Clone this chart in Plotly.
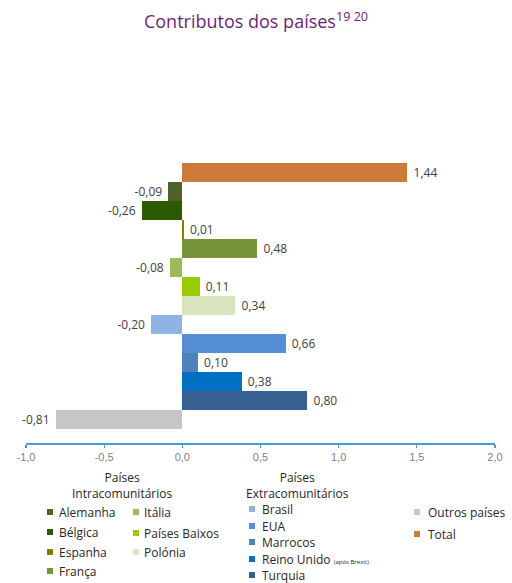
import plotly.graph_objects as go

# ---- data ----
categories = ["Total", "Alemanha", "Bélgica", "Espanha", "França", "Itália",
              "Países Baixos", "Polónia", "Brasil", "EUA", "Marrocos",
              "Reino Unido", "Turquia", "Outros países"]
values = [1.44, -0.09, -0.26, 0.01, 0.48, -0.08, 0.11, 0.34,
          -0.20, 0.66, 0.10, 0.38, 0.80, -0.81]
colors = {
    "Total": "#CC7A3A", "Alemanha": "#4F6228", "Bélgica": "#2D5A00",
    "Espanha": "#808000", "França": "#77933C", "Itália": "#9BBB59",
    "Países Baixos": "#99CC00", "Polónia": "#D7E4BD", "Brasil": "#8EB4E3",
    "EUA": "#558ED5", "Marrocos": "#4F81BD", "Reino Unido": "#0070C0",
    "Turquia": "#366092", "Outros países": "#C6C6C6",
}
tick_vals = [-1.0, -0.5, 0.0, 0.5, 1.0, 1.5, 2.0]
tick_labels = ["-1,0", "-0,5", "0,0", "0,5", "1,0", "1,5", "2,0"]

intra_col1 = ["Alemanha", "Bélgica", "Espanha", "França"]
intra_col2 = ["Itália", "Países Baixos", "Polónia"]
extra_list = ["Brasil", "EUA", "Marrocos", "Reino Unido", "Turquia"]
other_list = ["Outros países", "Total"]

title_text = "Contributos dos países<sup>19 20</sup>"

# ---- geometry ----
W_FIG, H_FIG = 512, 583
L, R, T, B = 26, 17, 60, 140
PW = W_FIG - L - R
PH = H_FIG - T - B
BOTTOM_PX = H_FIG - B
SLOT = 19.0

def px2x(px):
    return (px - L) / PW

def py2y(py):
    return (BOTTOM_PX - py) / PH

NB = "\u00a0"
labels = []
for v in values:
    s = f"{v:.2f}".replace(".", ",")
    labels.append(NB + s if v >= 0 else s + NB)

fig = go.Figure()
fig.add_trace(go.Bar(
    x=values, y=categories, orientation="h",
    marker=dict(color=[colors[c] for c in categories], line=dict(width=0)),
    text=labels, textposition="outside", texttemplate="%{text}",
    textfont=dict(family="Open Sans", size=12, color="#404040"),
    cliponaxis=False, showlegend=False, hoverinfo="skip",
))

n = len(categories)
last_center_px = 419.5
extra_units = (BOTTOM_PX - last_center_px) / SLOT
y_lo = (n - 1) + extra_units
y_hi = y_lo - PH / SLOT

fig.update_yaxes(visible=False, categoryorder="array", categoryarray=categories,
                 range=[y_lo, y_hi])
fig.update_xaxes(range=[-1, 2], tickvals=tick_vals, ticktext=tick_labels,
                 showgrid=False, zeroline=False, showline=True,
                 linecolor="#4A9BD0", linewidth=1.5, ticks="outside",
                 ticklen=3, tickcolor="#4A9BD0", tickwidth=1.2,
                 tickfont=dict(family="Liberation Sans", size=11, color="#7F7F7F"))

shapes = []
annotations = []
legend_font = dict(family="Open Sans", size=12, color="#262626")

def add_entry(name, sq_cx, text_x, cy, label=None):
    s = 3
    shapes.append(dict(type="rect", xref="paper", yref="paper",
                       x0=px2x(sq_cx - s), x1=px2x(sq_cx + s),
                       y0=py2y(cy + s), y1=py2y(cy - s),
                       fillcolor=colors[name], line=dict(width=0)))
    annotations.append(dict(xref="paper", yref="paper", x=px2x(text_x - 2),
                            y=py2y(cy), xanchor="left", yanchor="middle",
                            text=label if label else name, showarrow=False,
                            font=legend_font))

for name, cy in zip(intra_col1, [512, 532, 552, 571]):
    add_entry(name, 50, 59, cy)
for name, cy in zip(intra_col2, [512, 533, 552]):
    add_entry(name, 136, 144, cy)
for name, cy in zip(extra_list, [509, 526, 542, 559, 575]):
    lab = name
    if name == "Reino Unido":
        lab = "Reino Unido <span style='font-size:6px'>(após Brexit)</span>"
    add_entry(name, 252, 262, cy, lab)
for name, cy in zip(other_list, [512, 534]):
    add_entry(name, 417, 428, cy)

annotations.append(dict(xref="paper", yref="paper", x=px2x(122), y=py2y(485),
                        xanchor="center", yanchor="middle", showarrow=False,
                        text="Países<br>Intracomunitários", font=legend_font))
annotations.append(dict(xref="paper", yref="paper", x=px2x(297), y=py2y(485),
                        xanchor="center", yanchor="middle", showarrow=False,
                        text="Países<br>Extracomunitários", font=legend_font))

fig.update_layout(
    width=W_FIG, height=H_FIG,
    margin=dict(l=L, r=R, t=T, b=B, autoexpand=False),
    paper_bgcolor="white", plot_bgcolor="white",
    bargap=0,
    separators=", ",
    title=dict(text=title_text, x=0.5, xanchor="center",
               y=1 - 22 / H_FIG, yanchor="middle",
               font=dict(family="Open Sans", size=18, color="#6B1F7C")),
    shapes=shapes, annotations=annotations,
)

fig.write_html("out.html",
               config={"displayModeBar": False, "staticPlot": True},
               post_script="document.body.style.margin='0px';document.body.style.overflow='hidden';")
